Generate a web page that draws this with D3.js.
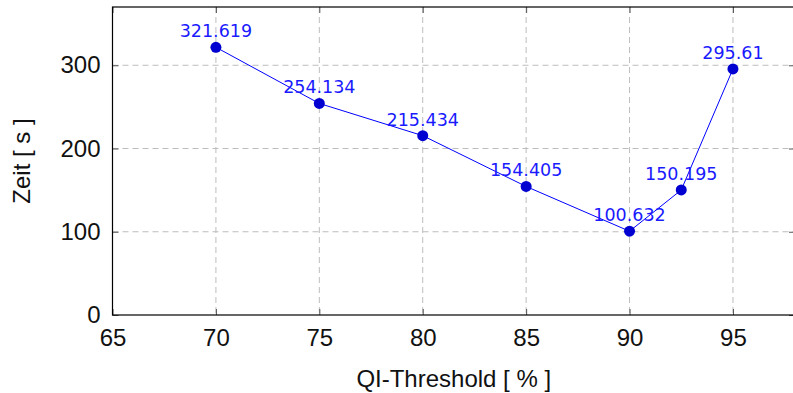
<!DOCTYPE html>
<html><head><meta charset="utf-8">
<script src="https://cdn.jsdelivr.net/npm/d3@7"></script>
<style>html,body{margin:0;padding:0;background:#fff;}svg{display:block;}</style>
</head><body>
<svg id="c" width="793" height="393"></svg>
<script>
const thresholds = [70, 75, 80, 85, 90, 92.5, 95];
const times = [321.619, 254.134, 215.434, 154.405, 100.632, 150.195, 295.61];
const valueLabels = ["321.619", "254.134", "215.434", "154.405", "100.632", "150.195", "295.61"];
const xTicks = [65, 70, 75, 80, 85, 90, 95];
const yTicks = [0, 100, 200, 300];
const xTitle = "QI-Threshold [ % ]";
const yTitle = "Zeit [ s ]";

const svg = d3.select("#c");
const L = 112.5, R = 795, T = 7, B = 315;
const x = d3.scaleLinear().domain([65, 98]).range([L, R]);
const y = d3.scaleLinear().domain([0, 370]).range([B, T]);
const tickFont = "'Liberation Sans', Arial, sans-serif";

// grid
const g = svg.append("g");
g.selectAll(".gx").data(xTicks.filter(d => d > 65)).join("line")
  .attr("x1", d => x(d)).attr("x2", d => x(d)).attr("y1", T).attr("y2", B)
  .attr("stroke", "#bdbdbd").attr("stroke-width", 1).attr("stroke-dasharray", "6,4");
g.selectAll(".gy").data(yTicks.filter(d => d > 0)).join("line")
  .attr("x1", L).attr("x2", R).attr("y1", d => y(d)).attr("y2", d => y(d))
  .attr("stroke", "#bdbdbd").attr("stroke-width", 1).attr("stroke-dasharray", "6,4");

// axes with inward ticks
const tl = 6;
const ax = svg.append("g");
ax.append("g").attr("transform", `translate(0,${B})`)
  .call(d3.axisBottom(x).tickValues(xTicks).tickSize(-tl).tickPadding(14).tickFormat(d3.format("d")))
  .call(s => { s.select(".domain").remove(); s.selectAll("line").attr("stroke", "#555");
    s.selectAll("text").attr("font-family", tickFont).attr("font-size", 24).attr("fill", "#111"); });
ax.append("g").attr("transform", `translate(0,${T})`)
  .call(d3.axisTop(x).tickValues(xTicks).tickSize(-tl).tickFormat(""))
  .call(s => { s.select(".domain").remove(); s.selectAll("line").attr("stroke", "#555"); });
ax.append("g").attr("transform", `translate(${L},0)`)
  .call(d3.axisLeft(y).tickValues(yTicks).tickSize(-tl).tickPadding(12))
  .call(s => { s.select(".domain").remove(); s.selectAll("line").attr("stroke", "#555");
    s.selectAll("text").attr("font-family", tickFont).attr("font-size", 24).attr("fill", "#111"); });
ax.append("g").attr("transform", `translate(${R},0)`)
  .call(d3.axisRight(y).tickValues(yTicks).tickSize(-tl).tickFormat(""))
  .call(s => { s.select(".domain").remove(); s.selectAll("line").attr("stroke", "#555"); });

// frame
svg.append("rect").attr("x", L).attr("y", T).attr("width", R - L).attr("height", B - T)
  .attr("fill", "none").attr("stroke", "#000").attr("stroke-width", 1.2);

// titles
svg.append("text").attr("x", (L + R) / 2).attr("y", 387).attr("text-anchor", "middle")
  .attr("font-family", tickFont).attr("font-size", 24).attr("fill", "#111").text(xTitle);
svg.append("text").attr("transform", `translate(30,${(T + B) / 2}) rotate(-90)`).attr("text-anchor", "middle")
  .attr("font-family", tickFont).attr("font-size", 24).attr("fill", "#111").text(yTitle);

// data
const pts = thresholds.map((t, i) => ({ t, v: times[i], lab: valueLabels[i] }));
svg.append("path").datum(pts)
  .attr("d", d3.line().x(d => x(d.t)).y(d => y(d.v)))
  .attr("fill", "none").attr("stroke", "#0000ff").attr("stroke-width", 1);
svg.selectAll(".pt").data(pts).join("circle")
  .attr("cx", d => x(d.t)).attr("cy", d => y(d.v)).attr("r", 5.5)
  .attr("fill", "#0000d0");
svg.selectAll(".lab").data(pts).join("text")
  .attr("x", d => x(d.t)).attr("y", d => y(d.v) - 10).attr("text-anchor", "middle")
  .attr("font-family", "'DejaVu Sans', sans-serif").attr("font-size", 17.5)
  .attr("fill", "#1a1aff").text(d => d.lab);
</script>
</body></html>
